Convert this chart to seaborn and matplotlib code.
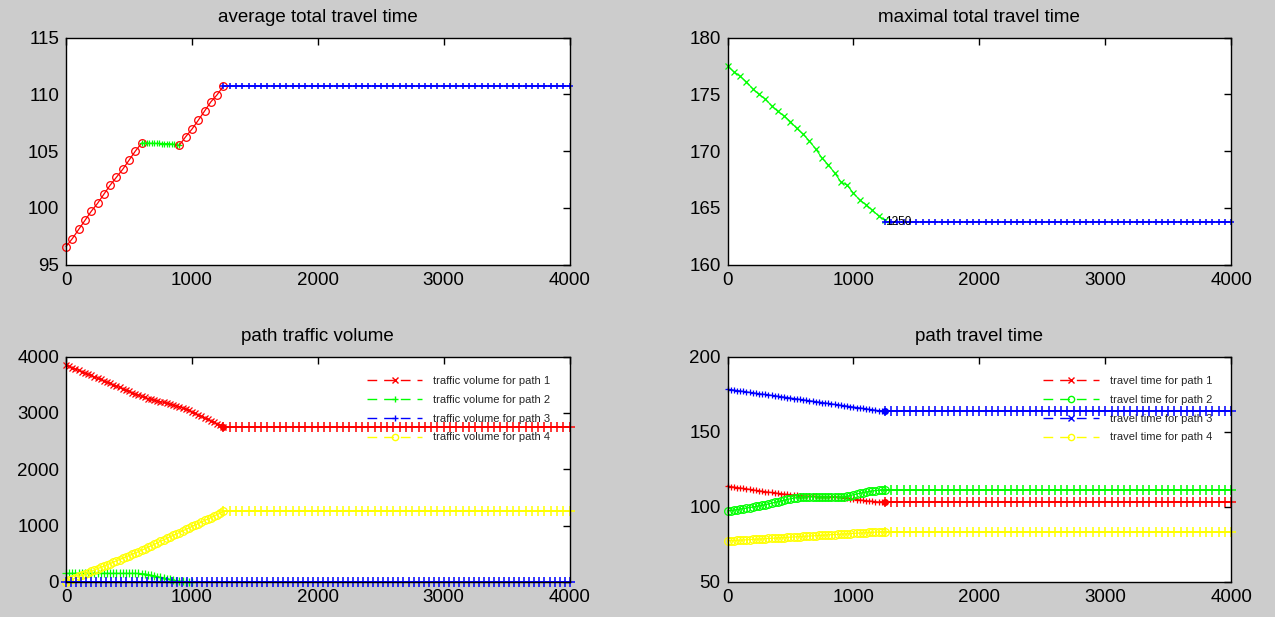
import matplotlib
matplotlib.use("Agg")
import matplotlib.pyplot as plt
from matplotlib.lines import Line2D
import numpy as np
import seaborn as sns

RED, GREEN, BLUE, YELLOW = "#ff0000", "#00ff00", "#0000ff", "#ffff00"
END_ITER = 4000

# --- average total travel time ---
avg_red1_iter = np.arange(0, 601, 50)
avg_red1 = [96.6, 97.3, 98.1, 98.9, 99.7, 100.4, 101.2, 102.0, 102.7, 103.4, 104.2, 105.0, 105.7]
avg_green_iter = np.arange(600, 901, 20)
avg_green = [105.70, 105.70, 105.70, 105.70, 105.69, 105.69, 105.68, 105.68,
             105.67, 105.67, 105.66, 105.65, 105.63, 105.60, 105.56, 105.52]
avg_red2_iter = np.arange(900, 1251, 50)
avg_red2 = [105.52, 106.27, 106.94, 107.72, 108.53, 109.34, 109.97, 110.75]
avg_final = 110.7

# --- maximal total travel time ---
max_green_iter = np.arange(0, 1251, 50)
max_green = [177.5, 177.0, 176.6, 176.1, 175.5, 175.0, 174.6, 174.0, 173.5, 173.1,
             172.6, 172.0, 171.5, 170.9, 170.2, 169.4, 168.8, 168.1, 167.3, 167.0,
             166.3, 165.7, 165.3, 164.8, 164.3, 163.9]
max_final = 163.8
max_label = "1250"

# --- path traffic volume (converging phase every 25 iterations) ---
conv_iter = np.arange(0, 1251, 25)
vol_path1 = [3850, 3825, 3805, 3780, 3755, 3735, 3710, 3685, 3665, 3640,
             3615, 3595, 3570, 3545, 3525, 3500, 3475, 3455, 3430, 3405,
             3385, 3360, 3335, 3317, 3295, 3275, 3255, 3242, 3230, 3218,
             3200, 3187, 3175, 3158, 3145, 3130, 3113, 3089, 3068, 3045,
             3015, 2990, 2965, 2940, 2910, 2885, 2860, 2830, 2805, 2780, 2750]
vol_path2_iter = np.arange(0, 1001, 25)
vol_path2 = [150] * 23 + [148, 145, 140, 130, 118, 105, 92, 80, 68, 55,
                          42, 30, 20, 12, 6, 2, 0, 0]
vol_path4 = [0, 25, 45, 70, 95, 115, 140, 165, 185, 210,
             235, 255, 280, 305, 325, 350, 375, 395, 420, 445,
             465, 490, 515, 535, 560, 585, 615, 640, 665, 690,
             720, 745, 770, 800, 825, 850, 875, 905, 930, 955,
             985, 1010, 1035, 1060, 1090, 1115, 1140, 1170, 1195, 1220, 1250]
vol_final = [2750, 0, 0, 1250]
vol_labels = ["traffic volume for path 1", "traffic volume for path 2",
              "traffic volume for path 3", "traffic volume for path 4"]

# --- path travel time ---
tt_path1 = [113.8, 113.4, 113.1, 112.8, 112.5, 112.2, 111.9, 111.6, 111.2, 110.9,
            110.6, 110.3, 110.0, 109.7, 109.5, 109.2, 108.9, 108.7, 108.4, 108.2,
            108.0, 107.8, 107.6, 107.4, 107.2, 107.1, 107.0, 106.9, 106.9, 106.8,
            106.8, 106.7, 106.7, 106.6, 106.6, 106.5, 106.3, 106.0, 105.7, 105.4,
            105.1, 104.8, 104.5, 104.3, 104.0, 103.8, 103.6, 103.4, 103.2, 103.1, 103.0]
tt_path2 = [97.2, 97.5, 97.8, 98.1, 98.5, 98.8, 99.1, 99.5, 99.8, 100.2,
            100.6, 101.0, 101.4, 101.9, 102.4, 102.9, 103.4, 103.9, 104.4, 104.9,
            105.3, 105.7, 106.1, 106.4, 106.6, 106.6, 106.6, 106.6, 106.6, 106.6,
            106.5, 106.5, 106.5, 106.5, 106.4, 106.4, 106.4, 106.6, 107.0, 107.5,
            108.0, 108.5, 109.0, 109.4, 109.8, 110.2, 110.5, 110.8, 111.0, 111.1, 111.2]
tt_path3 = [178.2, 178.0, 177.7, 177.4, 177.1, 176.8, 176.5, 176.2, 175.9, 175.6,
            175.3, 175.0, 174.8, 174.5, 174.2, 173.9, 173.6, 173.3, 173.0, 172.7,
            172.4, 172.1, 171.8, 171.5, 171.2, 170.9, 170.6, 170.3, 170.0, 169.7,
            169.4, 169.1, 168.8, 168.5, 168.2, 167.9, 167.6, 167.3, 167.0, 166.7,
            166.4, 166.1, 165.8, 165.5, 165.2, 164.9, 164.6, 164.3, 164.0, 163.8, 163.5]
tt_path4 = [77.3, 77.4, 77.5, 77.6, 77.8, 77.9, 78.0, 78.1, 78.3, 78.4,
            78.5, 78.6, 78.8, 78.9, 79.0, 79.1, 79.3, 79.4, 79.5, 79.6,
            79.8, 79.9, 80.0, 80.1, 80.3, 80.4, 80.5, 80.6, 80.8, 80.9,
            81.0, 81.1, 81.3, 81.4, 81.5, 81.6, 81.8, 81.9, 82.0, 82.1,
            82.3, 82.4, 82.5, 82.6, 82.8, 82.9, 83.0, 83.1, 83.2, 83.3, 83.3]
tt_final = [103.0, 111.3, 163.5, 83.3]
tt_labels = ["travel time for path 1", "travel time for path 2",
             "travel time for path 3", "travel time for path 4"]

for s in (vol_path1, vol_path4, tt_path1, tt_path2, tt_path3, tt_path4):
    assert len(s) == len(conv_iter)
assert len(vol_path2) == len(vol_path2_iter)

sns.set_theme(style="white")
plt.rcParams["font.family"] = ["Liberation Sans", "DejaVu Sans"]
plt.rcParams["figure.facecolor"] = "#cccccc"
plt.rcParams["axes.facecolor"] = "white"


def draw(ax, x, y, color, marker, ms, open_marker=False, lw=0.9, mew=0.9):
    sns.lineplot(x=np.asarray(x, dtype=float), y=np.asarray(y, dtype=float), ax=ax,
                 color=color, marker=marker, markersize=ms,
                 markeredgecolor=color,
                 markerfacecolor="none" if open_marker else color,
                 markeredgewidth=mew, linewidth=lw, clip_on=False,
                 sort=False, estimator=None, errorbar=None)


def plateau(ax, level, color, start=1250, step=50, ms=6):
    x = np.arange(start, END_ITER + 1, step)
    draw(ax, x, np.full(len(x), level), color, "+", ms, lw=1.3, mew=1.1)


def style(ax, title, ylim, yticks):
    ax.set_xlim(0, END_ITER)
    ax.set_ylim(*ylim)
    ax.set_xticks(range(0, END_ITER + 1, 1000))
    ax.set_yticks(yticks)
    ax.set_xlabel("")
    ax.set_ylabel("")
    ax.tick_params(direction="in", length=5, width=1, top=True, right=True,
                   labelsize=13.5, pad=5, colors="black")
    for sp in ax.spines.values():
        sp.set_color("black")
        sp.set_linewidth(1)
    ax.set_title(title, fontsize=13.5, pad=11, color="black")


def legend(ax, styles, labels):
    handles = [Line2D([], [], color=c, linestyle=(0, (7, 5)), linewidth=1.0,
                      marker=m, markersize=4.5, markeredgecolor=c,
                      markerfacecolor="none" if m == "o" else c)
               for c, m in styles]
    leg = ax.legend(handles, labels, loc="upper right", bbox_to_anchor=(0.962, 0.915),
                    frameon=False, fontsize=8, handlelength=5.0, handletextpad=1.0,
                    labelspacing=0.8, borderaxespad=0, borderpad=0)
    leg.set_zorder(1)


fig = plt.figure(figsize=(12.75, 6.17), dpi=100)
W = 0.395
ax1 = fig.add_axes([0.0518, 0.571, W, 0.368])
ax2 = fig.add_axes([0.5706, 0.571, W, 0.368])
ax3 = fig.add_axes([0.0518, 0.057, W, 0.365])
ax4 = fig.add_axes([0.5706, 0.057, W, 0.365])

# average total travel time
draw(ax1, avg_red1_iter, avg_red1, RED, "o", 5.5, open_marker=True)
draw(ax1, avg_green_iter, avg_green, GREEN, "+", 4.5)
draw(ax1, avg_red2_iter, avg_red2, RED, "o", 5.5, open_marker=True)
plateau(ax1, avg_final, BLUE, ms=5)
style(ax1, "average total travel time", (95, 115), range(95, 116, 5))

# maximal total travel time
draw(ax2, max_green_iter, max_green, GREEN, "x", 4, lw=0.8)
plateau(ax2, max_final, BLUE, ms=5)
ax2.text(max_green_iter[-1], max_final, max_label, fontsize=8.5, ha="left", va="center",
         color="black")
style(ax2, "maximal total travel time", (160, 180), range(160, 181, 5))

# path traffic volume
draw(ax3, conv_iter, vol_path1, RED, "x", 4)
draw(ax3, vol_path2_iter, vol_path2, GREEN, "+", 5.5)
draw(ax3, conv_iter, vol_path4, YELLOW, "o", 5.5, open_marker=True)
plateau(ax3, vol_final[2], BLUE, start=0, step=40, ms=6.5)
plateau(ax3, vol_final[0], RED, ms=6.5)
plateau(ax3, vol_final[3], YELLOW, ms=6.5)
ax3.plot(conv_iter[-1], vol_path1[-1], "o", color=RED, ms=4)
style(ax3, "path traffic volume", (0, 4000), range(0, 4001, 1000))
legend(ax3, [(RED, "x"), (GREEN, "+"), (BLUE, "+"), (YELLOW, "o")], vol_labels)

# path travel time
draw(ax4, conv_iter, tt_path3, BLUE, "+", 5)
draw(ax4, conv_iter, tt_path1, RED, "+", 4.5)
draw(ax4, conv_iter, tt_path2, GREEN, "o", 5.5, open_marker=True)
draw(ax4, conv_iter, tt_path4, YELLOW, "o", 5.5, open_marker=True)
plateau(ax4, tt_final[2], BLUE, ms=6.5)
plateau(ax4, tt_final[1], GREEN, ms=6.5)
plateau(ax4, tt_final[0], RED, ms=6.5)
plateau(ax4, tt_final[3], YELLOW, ms=6.5)
ax4.plot(conv_iter[-1], tt_path3[-1], "o", color=BLUE, ms=4)
ax4.plot(conv_iter[-1], tt_path1[-1], "o", color=RED, ms=4)
style(ax4, "path travel time", (50, 200), range(50, 201, 50))
legend(ax4, [(RED, "x"), (GREEN, "o"), (BLUE, "x"), (YELLOW, "o")], tt_labels)

fig.savefig("out.png", dpi=100, facecolor=fig.get_facecolor())
